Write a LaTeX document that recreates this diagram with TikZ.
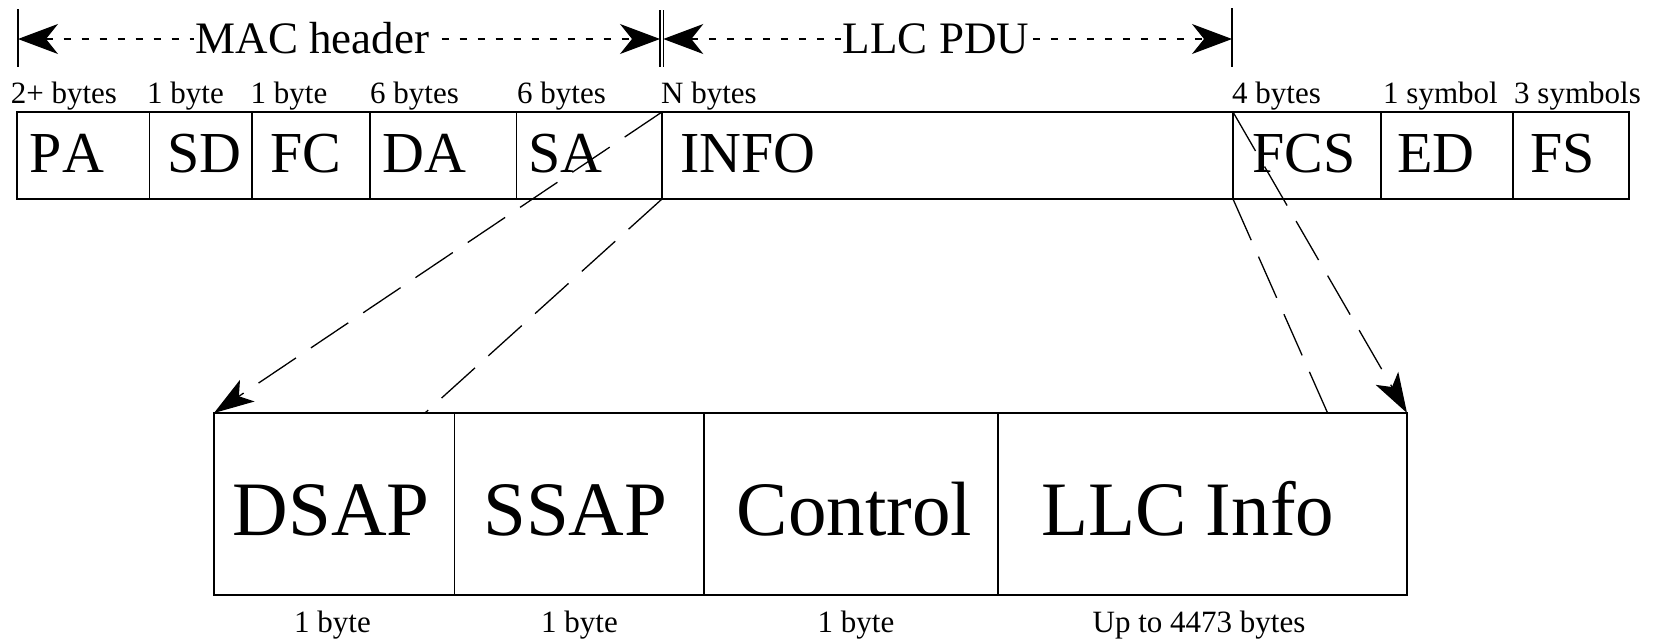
\documentclass[tikz,border=0pt]{standalone}
\usepackage{fontspec}
\setmainfont{Liberation Serif}[Kerning=Off]
\usetikzlibrary{arrows.meta}
\begin{document}
\begin{tikzpicture}[x=1pt,y=-1pt,
  cell/.style={draw, line width=1.7pt, inner sep=0pt, outer sep=0pt, anchor=north west},
  toplbl/.style={anchor=base west, inner sep=0pt, font=\fontsize{58}{62}\selectfont},
  toplen/.style={anchor=base west, inner sep=0pt, font=\fontsize{31}{34}\selectfont},
  lowlbl/.style={anchor=base west, inner sep=0pt, font=\fontsize{77}{80}\selectfont},
  lowlen/.style={anchor=base, inner sep=0pt, font=\fontsize{31}{34}\selectfont},
  dimtxt/.style={anchor=base, inner sep=1.5pt, fill=white, font=\fontsize{45}{48}\selectfont},
  tick/.style={line width=1.3pt},
  dimline/.style={line width=1.2pt, dash pattern=on 7pt off 11pt,
    arrows={Stealth[length=40pt,width=30pt,inset=12pt]-Stealth[length=40pt,width=30pt,inset=12pt]}},
  zoomline/.style={line width=1.3pt, dash pattern=on 45pt off 18pt},
  zoomarrow/.style={zoomline, -{Stealth[length=40pt,width=26pt,inset=10pt]}}]
\useasboundingbox (0,0) rectangle (1657,640);

% frame fields
\node[cell, minimum width=132.6pt, minimum height=87pt] (PA)   at (17,112) {};
\node[cell, minimum width=102.4pt, minimum height=87pt] (SD)   at (149.6,112) {};
\node[cell, minimum width=118pt,   minimum height=87pt] (FC)   at (252,112) {};
\node[cell, minimum width=146.5pt, minimum height=87pt] (DA)   at (370,112) {};
\node[cell, minimum width=145.5pt, minimum height=87pt] (SA)   at (516.5,112) {};
\node[cell, minimum width=571pt,   minimum height=87pt] (INFO) at (662,112) {};
\node[cell, minimum width=148pt,   minimum height=87pt] (FCS)  at (1233,112) {};
\node[cell, minimum width=132pt,   minimum height=87pt] (ED)   at (1381,112) {};
\node[cell, minimum width=116pt,   minimum height=87pt] (FS)   at (1513,112) {};

\node[toplbl] (tPA)   at (29.6,172) {PA};
\node[toplbl] (tSD)   at (167,172)  {SD};
\node[toplbl] (tFC)   at (270.5,172) {FC};
\node[toplbl] (tDA)   at (382.5,172) {DA};
\node[toplbl] (tSA)   at (528,172)  {SA};
\node[toplbl] (tINFO) at (680,172)  {INFO};
\node[toplbl] (tFCS)  at (1252,172) {FCS};
\node[toplbl] (tED)   at (1397,172) {ED};
\node[toplbl] (tFS)   at (1530,172) {FS};

% field lengths
\node[toplen] (nPA)   at (10.6,103) {2+ bytes};
\node[toplen] (nSD)   at (147,103)  {1 byte};
\node[toplen] (nFC)   at (250.5,103) {1 byte};
\node[toplen] (nDA)   at (370,103)  {6 bytes};
\node[toplen] (nSA)   at (517,103)  {6 bytes};
\node[toplen] (nINFO) at (661,103)  {N bytes};
\node[toplen] (nFCS)  at (1232,103) {4 bytes};
\node[toplen] (nED)   at (1383,103) {1 symbol};
\node[toplen] (nFS)   at (1514,103) {3 symbols};

% span markers
\draw[tick] (18,9) -- (18,67);
\draw[tick] (660,10) -- (660,67);
\draw[tick] (663.3,10) -- (663.3,67);
\draw[tick] (1232,8) -- (1232,67);
\coordinate (m0) at (18,39);
\coordinate (m1) at (660,39);
\coordinate (m2) at (663.3,39);
\coordinate (m3) at (1232,39);
\draw[dimline] (m0) -- (m1);
\draw[dimline] (m2) -- (m3);
\node[dimtxt] (mac) at (312.5,53) {MAC header};
\node[dimtxt] (llc) at (936,53) {LLC PDU};

% LLC PDU fields
\node[cell, minimum width=240.5pt, minimum height=182pt] (DSAP) at (214,413) {};
\node[cell, minimum width=249.5pt, minimum height=182pt] (SSAP) at (454.5,413) {};
\node[cell, minimum width=294pt,   minimum height=182pt] (CTRL) at (704,413) {};
\node[cell, minimum width=409pt,   minimum height=182pt] (LLCI) at (998,413) {};

\node[lowlbl] (tDSAP) at (232.5,535) {DSAP};
\node[lowlbl] (tSSAP) at (483,535)   {SSAP};
\node[lowlbl] (tCTRL) at (736.6,535) {Control};
\node[lowlbl] (tLLCI) at (1041,535)  {LLC Info};

\node[lowlen] (nDSAP) at (332.5,632) {1 byte};
\node[lowlen] (nSSAP) at (579.5,632) {1 byte};
\node[lowlen] (nCTRL) at (856,632)   {1 byte};
\node[lowlen] (nLLCI) at (1199,632)  {Up to 4473 bytes};

% expansion lines
\coordinate (e1) at (425,413);
\coordinate (e2) at (1327.6,413);
\draw[zoomarrow] (INFO.north west) -- (DSAP.north west);
\draw[zoomline]  (INFO.south west) -- (e1);
\draw[zoomarrow] (FCS.north west) -- (LLCI.north east);
\draw[zoomline]  (FCS.south west) -- (e2);
\end{tikzpicture}
\end{document}
